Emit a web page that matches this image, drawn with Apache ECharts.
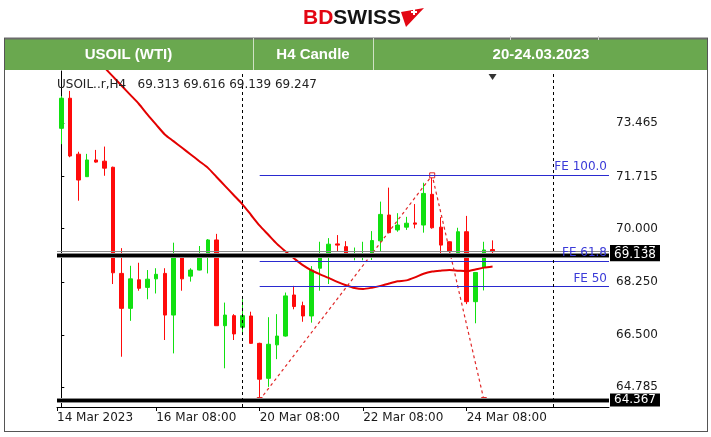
<!DOCTYPE html>
<html>
<head>
<meta charset="utf-8">
<script src="https://cdn.jsdelivr.net/npm/echarts@6/dist/echarts.min.js"></script>
<style>
html,body{margin:0;padding:0;background:#fff;}
#chart{width:711px;height:437px;}
</style>
</head>
<body>
<div id="chart"></div>
<script>
// ---------- DATA ----------
const symbolName = 'USOIL..r,H4';
const headerCells = ['USOIL (WTI)', 'H4 Candle', '20-24.03.2023'];

const barTimes = [
  '14 Mar 12:00','14 Mar 16:00','14 Mar 20:00',
  '15 Mar 00:00','15 Mar 04:00','15 Mar 08:00','15 Mar 12:00','15 Mar 16:00','15 Mar 20:00',
  '16 Mar 00:00','16 Mar 04:00','16 Mar 08:00','16 Mar 12:00','16 Mar 16:00','16 Mar 20:00',
  '17 Mar 00:00','17 Mar 04:00','17 Mar 08:00','17 Mar 12:00','17 Mar 16:00','17 Mar 20:00',
  '20 Mar 00:00','20 Mar 04:00','20 Mar 08:00','20 Mar 12:00','20 Mar 16:00','20 Mar 20:00',
  '21 Mar 00:00','21 Mar 04:00','21 Mar 08:00','21 Mar 12:00','21 Mar 16:00','21 Mar 20:00',
  '22 Mar 00:00','22 Mar 04:00','22 Mar 08:00','22 Mar 12:00','22 Mar 16:00','22 Mar 20:00',
  '23 Mar 00:00','23 Mar 04:00','23 Mar 08:00','23 Mar 12:00','23 Mar 16:00','23 Mar 20:00',
  '24 Mar 00:00','24 Mar 04:00','24 Mar 08:00','24 Mar 12:00','24 Mar 16:00','24 Mar 20:00'
];
const opens  = [73.30,74.29,72.45,71.71,72.26,72.22,72.02,68.53,67.38,68.32,68.07,68.35,68.53,67.16,69.10,68.44,68.64,69.19,69.63,66.81,67.14,66.76,67.13,66.23,65.08,66.18,66.47,67.82,67.47,67.13,68.70,69.19,69.50,69.41,69.10,69.12,69.14,69.60,70.45,69.96,70.05,70.19,70.12,71.13,70.05,69.57,69.21,69.90,67.60,68.73,69.313];
const highs  = [74.36,74.53,72.53,72.46,72.59,72.70,72.04,69.36,68.78,68.88,68.64,68.70,68.70,69.54,69.12,68.70,69.43,69.66,69.83,67.57,67.19,67.68,67.27,66.25,67.09,67.19,67.90,68.12,67.60,68.77,69.57,69.69,69.79,69.59,69.38,69.57,69.92,70.89,71.35,70.51,70.39,70.81,71.51,71.75,70.38,69.58,70.03,70.42,68.57,69.57,69.616];
const lows   = [72.78,72.35,70.92,71.70,72.17,71.74,68.18,65.79,66.97,67.96,67.68,67.87,66.34,65.90,67.96,68.26,68.63,68.53,66.80,65.41,66.34,66.50,66.22,64.367,64.80,65.71,66.45,67.35,66.94,66.91,67.96,68.18,69.24,69.15,68.96,68.96,68.97,69.24,69.85,69.90,69.96,70.01,69.87,70.00,69.17,69.08,69.20,67.52,66.89,67.97,69.139];
const closes = [74.29,72.39,71.60,72.26,72.19,71.99,68.55,67.38,68.35,68.04,68.34,68.50,67.16,69.10,68.35,68.64,69.08,69.63,66.81,67.16,66.54,67.14,66.23,65.05,66.20,66.47,67.79,67.44,67.13,68.64,69.14,69.49,69.46,69.17,69.15,69.17,69.61,70.47,69.87,70.12,70.18,70.15,71.16,70.03,69.46,69.25,69.90,67.60,68.56,69.30,69.247];
const maValues = [76.80,76.50,76.20,75.90,75.60,75.30,75.00,74.70,74.40,74.10,73.75,73.42,73.10,72.88,72.66,72.44,72.22,72.00,71.70,71.40,71.10,70.80,70.45,70.10,69.80,69.50,69.25,69.02,68.80,68.63,68.50,68.38,68.25,68.14,68.05,68.02,68.06,68.12,68.20,68.27,68.30,68.40,68.52,68.59,68.62,68.64,68.62,68.60,68.66,68.72,68.76];

const xTickIndex  = [-0.5, 11, 23, 35, 47];
const xTickLabels = ['14 Mar 2023','16 Mar 08:00','20 Mar 08:00','22 Mar 08:00','24 Mar 08:00'];
const yTickValues = [64.785, 66.5, 68.25, 70, 71.715, 73.465];

const feNames  = ['FE 100.0', 'FE 61.8', 'FE 50'];
const feLevels = [71.755, 68.94, 68.10];
const feStartIndex = 23;
const zigzagIndex  = [23, 43, 49];
const zigzagValues = [64.367, 71.755, 64.367];
const levelLine   = 69.138;
const supportLine = 64.367;
const bidLine     = 69.247;
const separatorIndex = [21, 57];

const xMin = -0.5, xMax = 63.5;
const yMin = 64.137, yMax = 75.185;

// ---------- CHART ----------
const chart = echarts.init(document.getElementById('chart'), null, {renderer: 'canvas'});
const FONT = '"DejaVu Sans", sans-serif';
const last = opens.length - 1;
const f3 = v => v.toFixed(3);

const candleData = opens.map((o, i) => [i, o, closes[i], lows[i], highs[i]]);
const maData = maValues.map((v, i) => [i, v]);
const zigData = zigzagIndex.map((x, k) => [x, zigzagValues[k]]);

const option = {
  animation: false,
  backgroundColor: '#ffffff',
  grid: {left: 57, right: 102, top: 71, bottom: 30, containLabel: false},
  xAxis: {
    type: 'value', min: xMin, max: xMax,
    axisLine: {show: true, lineStyle: {color: '#000', width: 1}},
    axisTick: {show: true, length: 4, customValues: xTickIndex, lineStyle: {color: '#000'}},
    axisLabel: {
      customValues: xTickIndex, align: 'left', margin: 5,
      fontFamily: FONT, fontSize: 12, color: '#1a1a1a',
      formatter: v => { const k = xTickIndex.indexOf(v); return k >= 0 ? xTickLabels[k] : ''; }
    },
    splitLine: {show: false}
  },
  yAxis: {
    type: 'value', position: 'right', min: yMin, max: yMax, scale: true,
    axisLine: {show: true, lineStyle: {color: '#000', width: 1}},
    axisTick: {show: true, length: 3, customValues: yTickValues, lineStyle: {color: '#000'}},
    axisLabel: {
      customValues: yTickValues, margin: 7,
      fontFamily: FONT, fontSize: 12, color: '#1a1a1a',
      formatter: v => f3(v)
    },
    splitLine: {show: false}
  },
  series: [
    {
      type: 'line', name: 'bid', data: [], z: 1,
      markLine: {
        silent: true, symbol: ['none', 'none'], animation: false,
        data: [{yAxis: bidLine}],
        lineStyle: {color: '#8a8a8a', width: 1, type: 'solid'},
        label: {show: true, position: 'end', distance: 1, formatter: f3(bidLine),
                backgroundColor: '#000', color: '#fff', fontFamily: FONT, fontSize: 12, padding: [1, 4, 0, 4]}
      }
    },
    {
      type: 'candlestick', name: 'USOIL', data: candleData, barWidth: 4, z: 2,
      itemStyle: {color: '#11e011', color0: '#ff0a0a', borderColor: '#11e011', borderColor0: '#ff0a0a', borderWidth: 1}
    },
    {
      type: 'line', name: 'MA', data: maData, showSymbol: false, smooth: 0.25, z: 3,
      lineStyle: {color: '#e30000', width: 2}
    },
    {
      type: 'line', name: 'FE', data: [], z: 3,
      markLine: {
        silent: true, symbol: ['none', 'none'], animation: false,
        lineStyle: {color: '#2a2ad0', width: 1, type: 'solid'},
        label: {show: true, position: 'insideEndTop', distance: 2, fontFamily: FONT, fontSize: 12, color: '#3a3ad8',
                formatter: p => p.name},
        data: feLevels.map((lv, k) => [
          {name: feNames[k], coord: [feStartIndex, lv]},
          {coord: [xMax, lv]}
        ])
      }
    },
    {
      type: 'line', name: 'zigzag', data: zigData, z: 4,
      symbol: 'rect', symbolSize: 5, showSymbol: true,
      lineStyle: {color: '#e02828', width: 1.2, type: [3, 3]},
      itemStyle: {color: '#fff', borderColor: '#e02828', borderWidth: 1}
    },
    {
      type: 'line', name: 'levels', data: [], z: 5,
      markLine: {
        silent: true, symbol: ['none', 'none'], animation: false,
        lineStyle: {type: 'solid'},
        data: [
          {yAxis: levelLine, lineStyle: {color: '#8c8c8c', width: 5, type: 'solid'}, label: {show: false}},
          {yAxis: supportLine, lineStyle: {color: '#8c8c8c', width: 5, type: 'solid'}, label: {show: false}},
          {yAxis: levelLine, lineStyle: {color: '#000', width: 3, type: 'solid'}, label: {show: true, formatter: f3(levelLine)}},
          {yAxis: supportLine, lineStyle: {color: '#000', width: 3, type: 'solid'}, label: {show: true, formatter: f3(supportLine)}}
        ],
        label: {position: 'end', distance: 1, backgroundColor: '#000', color: '#fff', fontFamily: FONT, fontSize: 12, padding: [1, 4, 0, 4]}
      }
    },
    {
      type: 'line', name: 'separators', data: [], z: 6,
      markLine: {
        silent: true, symbol: ['none', 'none'], animation: false,
        data: separatorIndex.map(x => ({xAxis: x})),
        lineStyle: {color: '#000', width: 1, type: [3, 3]},
        label: {show: false}
      }
    },
    {
      type: 'scatter', name: 'shift', data: [[last, yMax]], symbol: 'triangle', symbolRotate: 180,
      symbolSize: [8, 6], symbolOffset: [0, 6], itemStyle: {color: '#000'}, z: 7, clip: false
    }
  ],
  graphic: [
    // logo
    {type: 'text', x: 303, y: 18, z: 10,
     style: {text: '{r|BD}{k|SWISS}', verticalAlign: 'middle',
             rich: {r: {fill: '#e30613', font: 'bold 21px "Liberation Sans", Arial'},
                    k: {fill: '#141414', font: 'bold 21px "Liberation Sans", Arial'}}}},
    {type: 'polygon', z: 10, shape: {points: [[401, 12], [424, 8], [406, 27]]}, style: {fill: '#e30613'}},
    {type: 'rect', z: 11, shape: {x: 411, y: 11, width: 6, height: 2}, style: {fill: '#fff'}},
    {type: 'rect', z: 11, shape: {x: 413, y: 9, width: 2, height: 6}, style: {fill: '#fff'}},
    // header band
    {type: 'rect', z: 10, shape: {x: 4, y: 38, width: 704, height: 32}, style: {fill: '#6aa84f'}},
    {type: 'line', z: 11, shape: {x1: 4, y1: 38.5, x2: 708, y2: 38.5}, style: {stroke: '#6b6b6b', lineWidth: 2}},
    {type: 'line', z: 11, shape: {x1: 253.5, y1: 38, x2: 253.5, y2: 70}, style: {stroke: '#cfe2c4', lineWidth: 1}},
    {type: 'line', z: 11, shape: {x1: 373.5, y1: 38, x2: 373.5, y2: 70}, style: {stroke: '#cfe2c4', lineWidth: 1}},
    {type: 'line', z: 11, shape: {x1: 510.5, y1: 36, x2: 510.5, y2: 40}, style: {stroke: '#cfcfcf', lineWidth: 1}},
    {type: 'line', z: 11, shape: {x1: 598.5, y1: 36, x2: 598.5, y2: 40}, style: {stroke: '#cfcfcf', lineWidth: 1}},
    {type: 'text', z: 12, x: 128.5, y: 55, style: {text: headerCells[0], fill: '#fff', font: 'bold 15px "Liberation Sans", Arial', align: 'center', verticalAlign: 'middle'}},
    {type: 'text', z: 12, x: 313, y: 55, style: {text: headerCells[1], fill: '#fff', font: 'bold 15px "Liberation Sans", Arial', align: 'center', verticalAlign: 'middle'}},
    {type: 'text', z: 12, x: 541, y: 55, style: {text: headerCells[2], fill: '#fff', font: 'bold 15px "Liberation Sans", Arial', align: 'center', verticalAlign: 'middle'}},
    // outer frame
    {type: 'line', z: 11, shape: {x1: 4.5, y1: 38, x2: 4.5, y2: 432}, style: {stroke: '#555', lineWidth: 1}},
    {type: 'line', z: 11, shape: {x1: 707.5, y1: 38, x2: 707.5, y2: 432}, style: {stroke: '#555', lineWidth: 1}},
    {type: 'line', z: 11, shape: {x1: 4, y1: 431.5, x2: 708, y2: 431.5}, style: {stroke: '#555', lineWidth: 1}},
    // symbol info text
    {type: 'text', z: 12, x: 57, y: 85,
     style: {text: symbolName + '   ' + [opens[last], highs[last], lows[last], closes[last]].map(f3).join(' '),
             fill: '#222', font: '12px "DejaVu Sans"', verticalAlign: 'middle'}}
  ]
};
chart.setOption(option);
</script>
</body>
</html>
